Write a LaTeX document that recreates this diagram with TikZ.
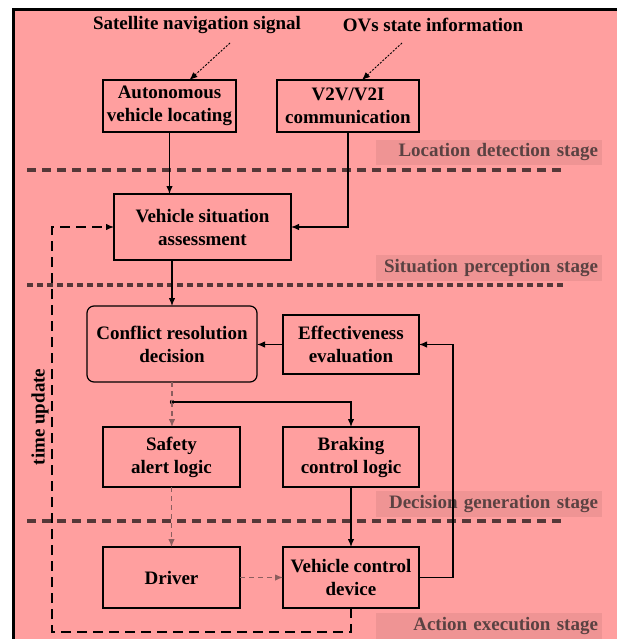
\documentclass[tikz,border=0pt]{standalone}
\usepackage{fontspec}
\setmainfont{Liberation Serif}
\usetikzlibrary{arrows.meta}
\definecolor{bgpink}{HTML}{FF9F9F}
\definecolor{lblpink}{HTML}{EF9494}
\definecolor{lblgray}{HTML}{5A4242}
\definecolor{sepline}{HTML}{553838}
\definecolor{weakline}{HTML}{8C5E5E}
\begin{document}
\begin{tikzpicture}[x=1pt,y=-1pt,inner sep=0pt,outer sep=0pt,line width=1.2pt,
>={Latex[length=8pt,width=6.5pt]},
font=\fontsize{19}{23}\selectfont\bfseries,
sysblock/.style={draw,rectangle,align=center,inner sep=2pt,line width=1.2pt},
stagelbl/.style={fill=lblpink,text=lblgray,anchor=east,minimum height=21pt,text width=218pt,align=right,inner sep=4pt},
sepdash/.style={sepline,line width=3.2pt},
weak/.style={weakline,dash pattern=on 5pt off 4pt},
sig/.style={line width=0.9pt,dash pattern=on 2pt off 1.5pt}]
\useasboundingbox (0,0) rectangle (617,639);
\fill[bgpink] (12,8) rectangle (617,639);
\draw[line width=3pt] (13.5,639) -- (13.5,9.5) -- (617,9.5);
% stages
\draw (602,152.5) node[stagelbl] (st1) {Location detection stage};
\draw (602,268) node[stagelbl] (st2) {Situation perception stage};
\draw (602,504) node[stagelbl] (st3) {Decision generation stage};
\draw (602,626) node[stagelbl] (st4) {Action execution stage};
\draw[sepdash,dash pattern=on 9pt off 6pt] (27,170) -- (563,170);
\draw[sepdash,dash pattern=on 6pt off 4pt] (27,285) -- (563,285);
\draw[sepdash,dash pattern=on 9pt off 6pt] (27,521) -- (563,521);
% blocks
\draw (197,25) node (sat) {Satellite navigation signal};
\draw (433,25) node (ovs) {OVs state information};
\draw (169.5,106) node[sysblock,minimum width=133pt,minimum height=52pt] (auto) {Autonomous\\vehicle locating};
\draw (348,106) node[sysblock,minimum width=142pt,minimum height=52pt] (v2v) {V2V/V2I\\communication};
\draw (202.5,227) node[sysblock,minimum width=177pt,minimum height=66pt] (vsa) {Vehicle situation\\assessment};
\draw (172,344) node[sysblock,rounded corners=7pt,minimum width=170pt,minimum height=76pt] (crd) {Conflict resolution\\decision};
\draw (351,344.5) node[sysblock,minimum width=136pt,minimum height=59pt] (eff) {Effectiveness\\evaluation};
\draw (171.5,457) node[sysblock,minimum width=137pt,minimum height=60pt] (sal) {Safety\\alert logic};
\draw (351,457) node[sysblock,minimum width=136pt,minimum height=60pt] (bcl) {Braking\\control logic};
\draw (171.5,577.5) node[sysblock,minimum width=137pt,minimum height=61pt] (drv) {Driver};
\draw (351,577.5) node[sysblock,minimum width=136pt,minimum height=61pt] (vcd) {Vehicle control\\device};
\draw (40,417) node[rotate=90] (tu) {time update};
\coordinate (satend) at (230,43);
\coordinate (ovsend) at (402,43);
\coordinate (tucorner) at (52,632);
\fill (172,402) circle (2.2pt) coordinate (jn);
% connections
\draw[sig,->] (satend) -- ([xshift=20pt]auto.north);
\draw[sig,->] (ovsend) -- ([xshift=14pt]v2v.north);
\draw[->] (auto.south) -- (auto.south |- vsa.north);
\draw[->] (v2v.south) |- (vsa.east);
\draw[->] (vsa.south -| crd.north) -- (crd.north);
\draw[->] (eff.west) -- (eff.west -| crd.east);
\draw[weak] (crd.south) -- (jn);
\draw[weak,->] (jn) -- (jn |- sal.north);
\draw[->] (jn) -| (bcl.north);
\draw[weak,->] (sal.south) -- (drv.north);
\draw[->] (bcl.south) -- (vcd.north);
\draw[weak,->] (drv.east) -- (vcd.west);
\draw[->] (vcd.east) -- ++(34,0) |- (eff.east);
\draw[dash pattern=on 10pt off 6pt,->] (vcd.south) |- (tucorner) |- (vsa.west);
\end{tikzpicture}
\end{document}
